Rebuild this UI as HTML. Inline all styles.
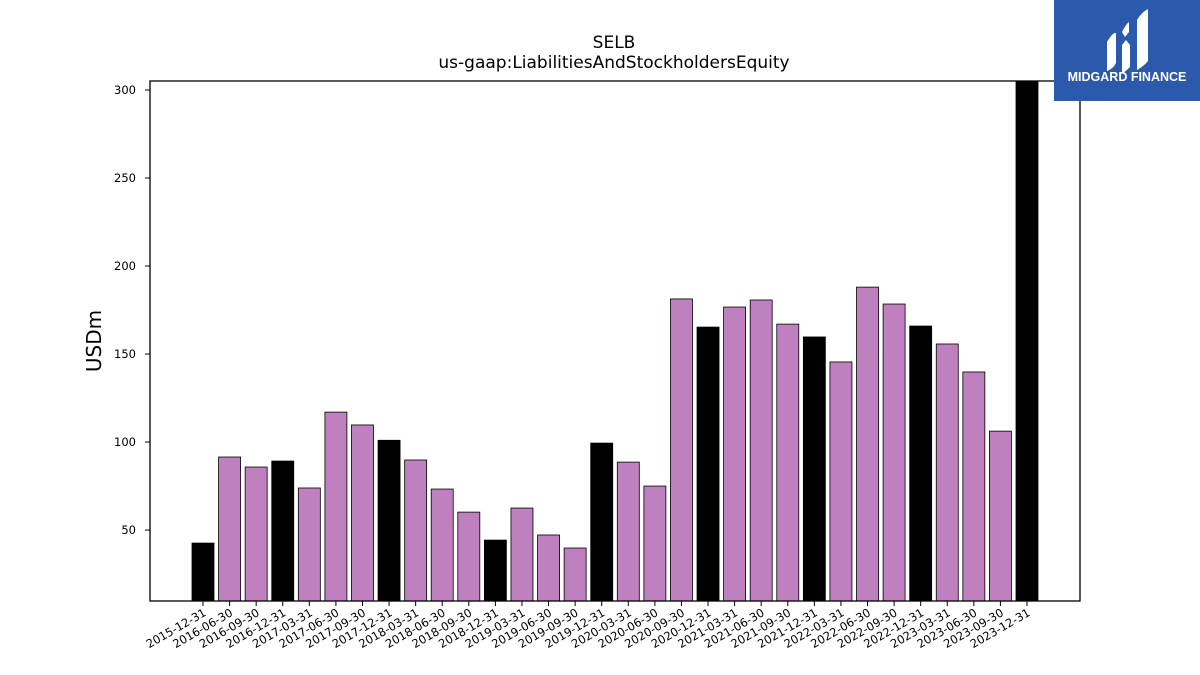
<!DOCTYPE html>
<html><head><meta charset="utf-8"><style>
body{margin:0;background:#fff;}
svg{display:block;font-family:"DejaVu Sans","Liberation Sans",sans-serif;}
</style></head><body>
<svg id="chart" width="1200" height="675">
<text x="614" y="48" text-anchor="middle" font-size="17">SELB</text>
<text x="614" y="68" text-anchor="middle" font-size="17">us-gaap:LiabilitiesAndStockholdersEquity</text>
<text transform="translate(101,341) rotate(-90)" text-anchor="middle" font-size="20">USDm</text>
<g id="bars"></g>
<g id="yticks"></g>
<g id="xticks"></g>
<rect x="150" y="81" width="930" height="520" fill="none" stroke="#000" stroke-width="1.3"/>
<g>
<rect x="1054" y="0" width="146" height="101" fill="#2b5aad"/>
<path d="M1107 42 q6-10 9-9 v30 q-3 6-9 8 z" fill="#fff"/>
<path d="M1122 32 q4-8 7-10 v10 l-4 5 z M1122 45 l4-5 4 5 v22 q-3 3-8 7 z" fill="#fff"/>
<path d="M1137 20 q5-8 11-11 v52 q-4 5-11 9 z" fill="#fff"/>
<text x="1127" y="81" text-anchor="middle" font-size="12.5" font-weight="bold" fill="#fff" font-family="Liberation Sans,sans-serif">MIDGARD FINANCE</text>
</g>
</svg>
<script>
const categories=["2015-12-31","2016-06-30","2016-09-30","2016-12-31","2017-03-31","2017-06-30","2017-09-30","2017-12-31","2018-03-31","2018-06-30","2018-09-30","2018-12-31","2019-03-31","2019-06-30","2019-09-30","2019-12-31","2020-03-31","2020-06-30","2020-09-30","2020-12-31","2021-03-31","2021-06-30","2021-09-30","2021-12-31","2022-03-31","2022-06-30","2022-09-30","2022-12-31","2023-03-31","2023-06-30","2023-09-30","2023-12-31"];
const values=[42.6,91.5,85.8,89.2,73.9,117,109.7,101,89.8,73.3,60.2,44.3,62.5,47.2,39.8,99.4,88.6,75,181.3,165.3,176.7,180.7,167,159.7,145.5,188,178.4,165.9,155.7,139.8,106.2,320];
const annual=[1,0,0,1,0,0,0,1,0,0,0,1,0,0,0,1,0,0,0,1,0,0,0,1,0,0,0,1,0,0,0,1];
const yTicks=[50,100,150,200,250,300];
const NS="http://www.w3.org/2000/svg";
const plotTop=81,plotBottom=601,yMin=9.7,yMax=305.1;
function yScale(v){return plotBottom-(v-yMin)/(yMax-yMin)*(plotBottom-plotTop);}
function xScale(i){return 203+i*(1027-203)/(categories.length-1);}
const bw=22;
const gb=document.getElementById('bars'),gy=document.getElementById('yticks'),gx=document.getElementById('xticks');
values.forEach((v,i)=>{
const r=document.createElementNS(NS,'rect');
const yt=Math.max(yScale(v),plotTop);
r.setAttribute('x',xScale(i)-bw/2);r.setAttribute('y',yt);r.setAttribute('width',bw);r.setAttribute('height',plotBottom-yt);
r.setAttribute('fill',annual[i]?'#000':'#bf80bf');r.setAttribute('stroke','#000');r.setAttribute('stroke-width','0.8');


gb.appendChild(r);
const t=document.createElementNS(NS,'line');
t.setAttribute('x1',xScale(i));t.setAttribute('x2',xScale(i));t.setAttribute('y1',plotBottom);t.setAttribute('y2',plotBottom+5);t.setAttribute('stroke','#000');


gx.appendChild(t);
const l=document.createElementNS(NS,'text');
l.setAttribute('transform','translate('+(xScale(i)+4)+','+(plotBottom+14)+') rotate(-30)');
l.setAttribute('text-anchor','end');l.setAttribute('font-size','11.5');l.textContent=categories[i];


gx.appendChild(l);
});
yTicks.forEach(v=>{
const t=document.createElementNS(NS,'line');
t.setAttribute('x1',145);t.setAttribute('x2',150);t.setAttribute('y1',yScale(v));t.setAttribute('y2',yScale(v));t.setAttribute('stroke','#000');


gy.appendChild(t);
const l=document.createElementNS(NS,'text');
l.setAttribute('x',136);l.setAttribute('y',yScale(v)+4);l.setAttribute('text-anchor','end');l.setAttribute('font-size','11.5');l.textContent=v;


gy.appendChild(l);
});
</script>
</body></html>
